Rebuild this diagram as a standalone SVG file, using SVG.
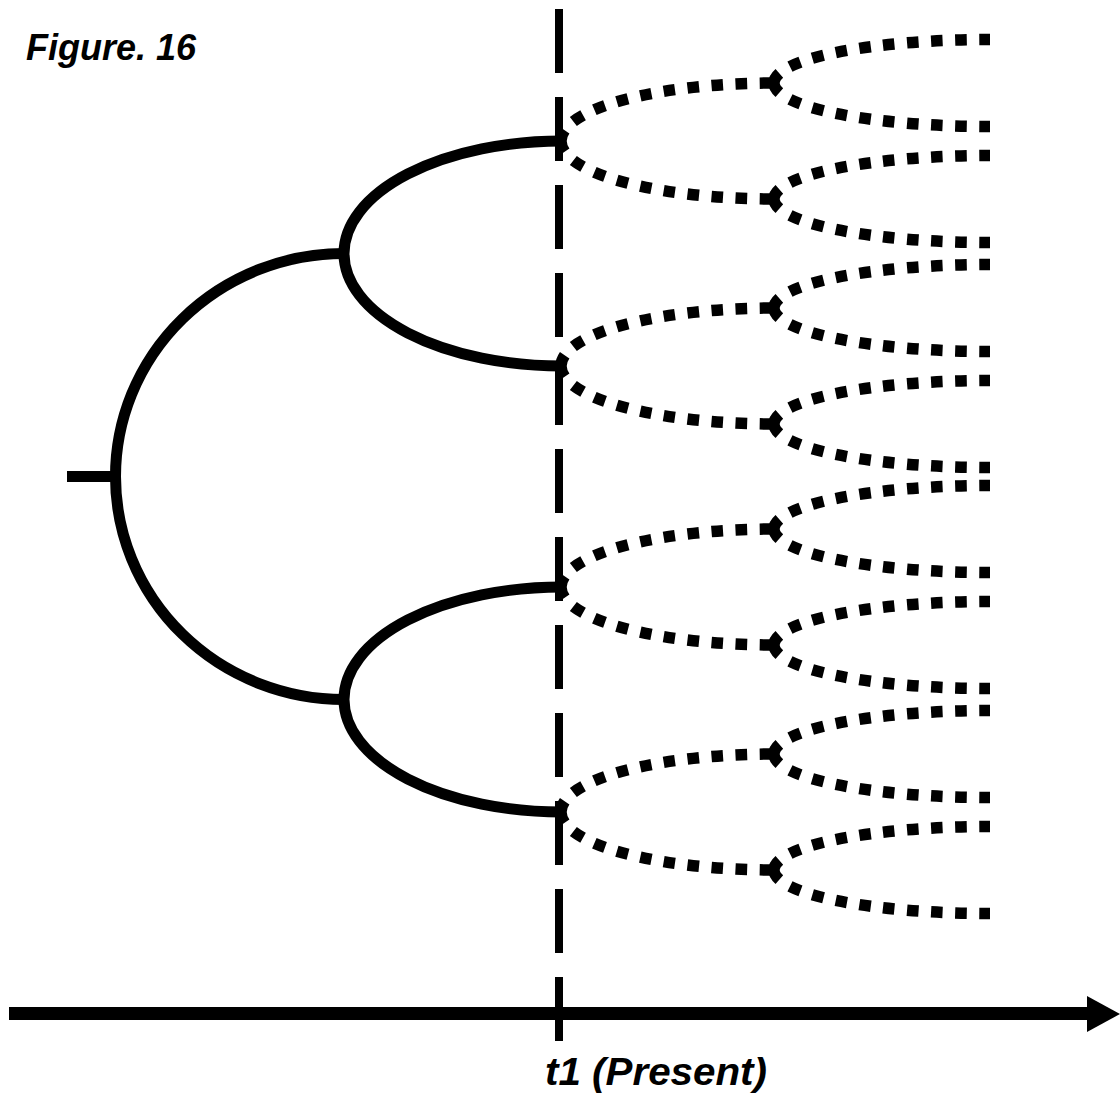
<svg xmlns="http://www.w3.org/2000/svg" width="1120" height="1104" viewBox="0 0 1120 1104">
<style>
  .lbl { font-family: "Liberation Sans", Arial, sans-serif; font-weight: bold; font-style: italic; fill: #000; }
  .solid { fill: none; stroke: #000; stroke-width: 11; stroke-linecap: butt; }
  .dot { fill: none; stroke: #000; stroke-width: 11.5; stroke-dasharray: 11.5 12.5; stroke-linecap: butt; }
  .present { fill: none; stroke: #000; stroke-width: 8; stroke-dasharray: 64 24; }
</style>
<rect width="1120" height="1104" fill="#fff"/>

<g id="title">
  <text class="lbl" x="26" y="60" font-size="36">Figure. 16</text>
</g>

<g id="present-line">
  <line class="present" x1="559" y1="9" x2="559" y2="1041"/>
</g>

<g id="time-axis">
  <line x1="9" y1="1013.5" x2="1090" y2="1013.5" stroke="#000" stroke-width="13"/>
  <polygon points="1087,996 1120,1014 1087,1032" fill="#000"/>
  <text class="lbl" x="545" y="1085" font-size="39" textLength="222" lengthAdjust="spacingAndGlyphs">t1 (Present)</text>
</g>

<g id="tree-solid">
  <path class="solid" d="M67,476.5 H117"/>
  <path class="solid" d="M344,253.5 A228.5,223 0 0 0 115.5,476.5 A228.5,223 0 0 0 344,699.5"/>
  <path class="solid" d="M562,141 A218,112.5 0 0 0 344,253.5 A218,112.5 0 0 0 562,366"/>
  <path class="solid" d="M562,587 A218,112.5 0 0 0 344,699.5 A218,112.5 0 0 0 562,812"/>
</g>

<g id="connectors">
  <!-- level 3: from present to mid branch points -->
  <path class="dot" d="M561,141 A213,58 0 0 1 774,83"/>
  <path class="dot" d="M561,141 A213,58 0 0 0 774,199"/>
  <path class="dot" d="M561,366 A213,58 0 0 1 774,308"/>
  <path class="dot" d="M561,366 A213,58 0 0 0 774,424"/>
  <path class="dot" d="M561,587 A213,58 0 0 1 774,529"/>
  <path class="dot" d="M561,587 A213,58 0 0 0 774,645"/>
  <path class="dot" d="M561,812 A213,58 0 0 1 774,754"/>
  <path class="dot" d="M561,812 A213,58 0 0 0 774,870"/>
  <!-- level 4: from mid branch points to future ends -->
  <path class="dot" d="M774,83 A216,43.5 0 0 1 990,39.5"/>
  <path class="dot" d="M774,83 A216,43.5 0 0 0 990,126.5"/>
  <path class="dot" d="M774,199 A216,43.5 0 0 1 990,155.5"/>
  <path class="dot" d="M774,199 A216,43.5 0 0 0 990,242.5"/>
  <path class="dot" d="M774,308 A216,43.5 0 0 1 990,264.5"/>
  <path class="dot" d="M774,308 A216,43.5 0 0 0 990,351.5"/>
  <path class="dot" d="M774,424 A216,43.5 0 0 1 990,380.5"/>
  <path class="dot" d="M774,424 A216,43.5 0 0 0 990,467.5"/>
  <path class="dot" d="M774,529 A216,43.5 0 0 1 990,485.5"/>
  <path class="dot" d="M774,529 A216,43.5 0 0 0 990,572.5"/>
  <path class="dot" d="M774,645 A216,43.5 0 0 1 990,601.5"/>
  <path class="dot" d="M774,645 A216,43.5 0 0 0 990,688.5"/>
  <path class="dot" d="M774,754 A216,43.5 0 0 1 990,710.5"/>
  <path class="dot" d="M774,754 A216,43.5 0 0 0 990,797.5"/>
  <path class="dot" d="M774,870 A216,43.5 0 0 1 990,826.5"/>
  <path class="dot" d="M774,870 A216,43.5 0 0 0 990,913.5"/>
</g>
</svg>
